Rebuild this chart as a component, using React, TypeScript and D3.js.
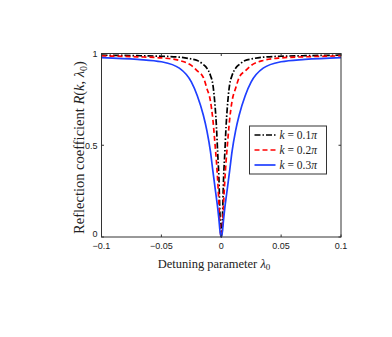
import React, { useEffect, useRef } from "react";
import * as d3 from "d3";

// detuning values (x axis)
const lambda = [
	-0.1, -0.07, -0.05, -0.035, -0.025, -0.02, -0.015, -0.012, -0.009, -0.007, -0.005, -0.004, -0.003, -0.002, -0.001,
	0,
	0.001, 0.002, 0.003, 0.004, 0.005, 0.007, 0.009, 0.012, 0.015, 0.02, 0.025, 0.035, 0.05, 0.07, 0.1,
];

// reflection coefficient
const k01 = [
	0.991, 0.988, 0.985, 0.98, 0.97, 0.962, 0.94, 0.92, 0.88, 0.83, 0.7, 0.6, 0.46, 0.33, 0.11,
	0,
	0.11, 0.33, 0.46, 0.6, 0.7, 0.83, 0.88, 0.92, 0.94, 0.962, 0.97, 0.98, 0.985, 0.988, 0.991,
];
const k02 = [
	0.987, 0.982, 0.976, 0.962, 0.935, 0.905, 0.87, 0.81, 0.74, 0.64, 0.49, 0.41, 0.31, 0.19, 0.05,
	0,
	0.05, 0.19, 0.31, 0.41, 0.49, 0.64, 0.74, 0.81, 0.87, 0.905, 0.935, 0.962, 0.976, 0.982, 0.987,
];
const k03 = [
	0.978, 0.968, 0.955, 0.92, 0.845, 0.77, 0.665, 0.58, 0.465, 0.36, 0.26, 0.21, 0.16, 0.1, 0.03,
	0,
	0.03, 0.1, 0.16, 0.21, 0.26, 0.36, 0.465, 0.58, 0.665, 0.77, 0.845, 0.92, 0.955, 0.968, 0.978,
];

const xTicks = [-0.1, -0.05, 0, 0.05, 0.1];
const xTickLabels = ["\u22120.1", "\u22120.05", "0", "0.05", "0.1"];
const yTicks = [0, 0.5, 1];
const yTickLabels = ["0", "0.5", "1"];

const series = [
	{ name: "0.1", values: k01, color: "#000000", dash: "6,2,1.5,2" },
	{ name: "0.2", values: k02, color: "#ff0000", dash: "5,3" },
	{ name: "0.3", values: k03, color: "#1f3fff", dash: null },
];

const App = () => {
	const svgRef = useRef(null);

	useEffect(() => {
		const svg = d3.select(svgRef.current);
		svg.selectAll("*").remove();

		const margin = { top: 53.5, left: 101.5, right: 51, bottom: 100 };
		const width = 341 - margin.left;
		const height = 237 - margin.top;

		const x = d3.scaleLinear().domain([-0.1, 0.1]).range([0, width]);
		const y = d3.scaleLinear().domain([0, 1]).range([height, 0]);

		const g = svg.append("g").attr("transform", `translate(${margin.left},${margin.top})`);

		const line = d3
			.line()
			.x((d) => x(d[0]))
			.y((d) => y(d[1]))
			.curve(d3.curveMonotoneX);

		g.append("defs")
			.append("clipPath")
			.attr("id", "clip")
			.append("rect")
			.attr("width", width)
			.attr("height", height + 2);

		series.forEach((s) => {
			g.append("path")
				.datum(lambda.map((l, i) => [l, s.values[i]]))
				.attr("clip-path", "url(#clip)")
				.attr("fill", "none")
				.attr("stroke", s.color)
				.attr("stroke-width", 1.7)
				.attr("stroke-dasharray", s.dash)
				.attr("d", line);
		});

		// box
		g.append("rect")
			.attr("width", width)
			.attr("height", height)
			.attr("fill", "none")
			.attr("stroke", "#333")
			.attr("stroke-width", 1);

		// ticks (inside, mirrored like matlab)
		const tl = 2.5;
		xTicks.forEach((t) => {
			g.append("line").attr("x1", x(t)).attr("x2", x(t)).attr("y1", height).attr("y2", height - tl).attr("stroke", "#333");
			g.append("line").attr("x1", x(t)).attr("x2", x(t)).attr("y1", 0).attr("y2", tl).attr("stroke", "#333");
		});
		yTicks.forEach((t) => {
			g.append("line").attr("x1", 0).attr("x2", tl).attr("y1", y(t)).attr("y2", y(t)).attr("stroke", "#333");
			g.append("line").attr("x1", width).attr("x2", width - tl).attr("y1", y(t)).attr("y2", y(t)).attr("stroke", "#333");
		});

		const sans = "'Liberation Sans', Arial, sans-serif";
		const serif = "'Liberation Serif', 'Times New Roman', serif";

		g.selectAll(".xtl")
			.data(xTicks)
			.enter()
			.append("text")
			.attr("x", (d) => x(d))
			.attr("y", height + 11.5)
			.attr("text-anchor", "middle")
			.attr("font-family", sans)
			.attr("font-size", 9)
			.attr("fill", "#222")
			.text((d, i) => xTickLabels[i]);

		g.selectAll(".ytl")
			.data(yTicks)
			.enter()
			.append("text")
			.attr("x", -4)
			.attr("y", (d) => (d === 0 ? y(d) - 0.5 : y(d) + 3.5))
			.attr("text-anchor", "end")
			.attr("font-family", sans)
			.attr("font-size", 9)
			.attr("fill", "#222")
			.text((d, i) => yTickLabels[i]);

		// x label
		const xl = svg
			.append("text")
			.attr("x", 214)
			.attr("y", 267.5)
			.attr("text-anchor", "middle")
			.attr("font-family", serif)
			.attr("font-size", 12.5)
			.attr("fill", "#222");
		xl.append("tspan").text("Detuning parameter ");
		xl.append("tspan").attr("font-style", "italic").text("\u03bb");
		xl.append("tspan").attr("font-size", 9).attr("dy", 2.5).text("0");

		// y label
		const yl = svg
			.append("text")
			.attr("transform", "translate(84,147.5) rotate(-90)")
			.attr("text-anchor", "middle")
			.attr("font-family", serif)
			.attr("font-size", 14.5)
			.attr("fill", "#222");
		yl.append("tspan").text("Reflection coefficient ");
		yl.append("tspan").attr("font-style", "italic").text("R");
		yl.append("tspan").text("(");
		yl.append("tspan").attr("font-style", "italic").text("k");
		yl.append("tspan").text(", ");
		yl.append("tspan").attr("font-style", "italic").text("\u03bb");
		yl.append("tspan").attr("font-size", 10).attr("dy", 2.5).text("0");
		yl.append("tspan").attr("dy", -2.5).text(")");

		// legend
		const lg = svg.append("g").attr("transform", "translate(249.5,126)");
		lg.append("rect")
			.attr("width", 77)
			.attr("height", 48)
			.attr("fill", "#fff")
			.attr("stroke", "#333")
			.attr("stroke-width", 1);
		series.forEach((s, i) => {
			const yy = 9 + i * 15;
			lg.append("line")
				.attr("x1", 5)
				.attr("x2", 26)
				.attr("y1", yy)
				.attr("y2", yy)
				.attr("stroke", s.color)
				.attr("stroke-width", 1.7)
				.attr("stroke-dasharray", s.dash);
			const t = lg
				.append("text")
				.attr("x", 30)
				.attr("y", yy + 4)
				.attr("font-family", serif)
				.attr("font-size", 11.5)
				.attr("fill", "#222");
			t.append("tspan").attr("font-style", "italic").text("k");
			t.append("tspan").text(` = ${s.name}`);
			t.append("tspan").attr("font-style", "italic").text("\u03c0");
		});
	}, []);

	return (
		<svg
			ref={svgRef}
			width="392"
			height="337"
			style={{ position: "absolute", left: 0, top: 0, background: "#fff" }}
		></svg>
	);
};

export default App;
